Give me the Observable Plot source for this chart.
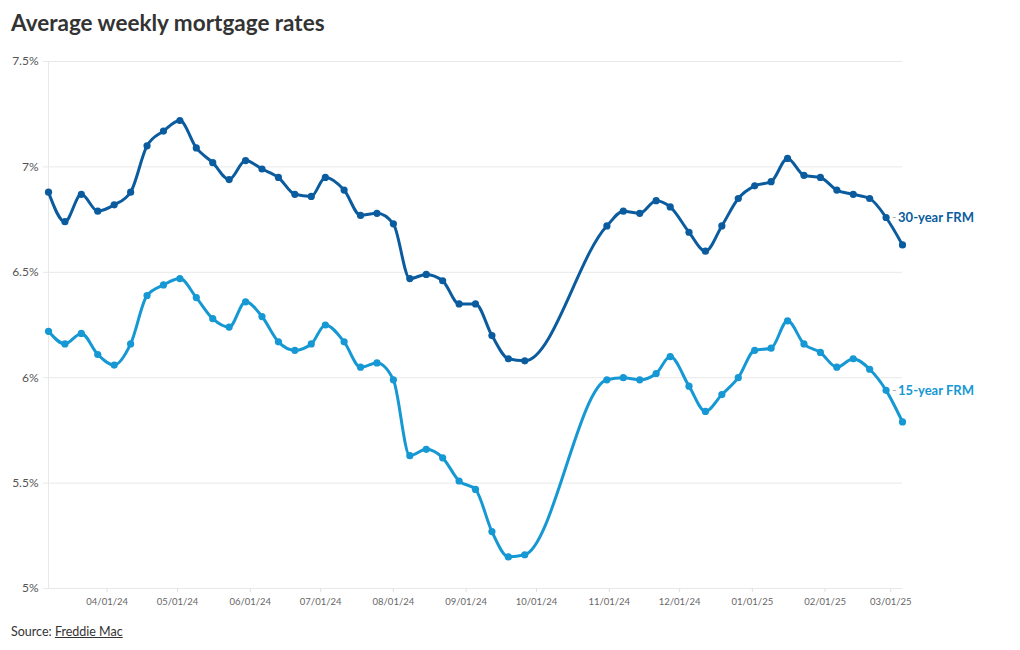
<!DOCTYPE html>
<html>
<head>
<meta charset="utf-8">
<script src="https://cdn.jsdelivr.net/npm/d3@7"></script>
<script src="https://cdn.jsdelivr.net/npm/@observablehq/plot@0.6"></script>
<style>
  html, body { margin: 0; padding: 0; background: #fff; }
  body { width: 1020px; height: 650px; position: relative; font-family: Lato, "Noto Sans", sans-serif; color: #333; }
  #title { position: absolute; left: 11px; top: 12px; font-size: 22.5px; line-height: 22px; font-weight: 700; color: #333; margin: 0; }
  #chart { position: absolute; left: 0; top: 45px; }
  #source { position: absolute; left: 11px; top: 624px; font-size: 12.5px; line-height: 16px; color: #333; }
  #source a { color: #333; text-decoration: underline; }
</style>
</head>
<body>
<div id="title">Average weekly mortgage rates</div>
<div id="chart"></div>
<div id="source">Source: <a>Freddie Mac</a></div>
<script>
const dates = ["2024-03-07","2024-03-14","2024-03-21","2024-03-28","2024-04-04","2024-04-11","2024-04-18","2024-04-25","2024-05-02","2024-05-09","2024-05-16","2024-05-23","2024-05-30","2024-06-06","2024-06-13","2024-06-20","2024-06-27","2024-07-03","2024-07-11","2024-07-18","2024-07-25","2024-08-01","2024-08-08","2024-08-15","2024-08-22","2024-08-29","2024-09-05","2024-09-12","2024-09-19","2024-09-26","2024-10-31","2024-11-07","2024-11-14","2024-11-21","2024-11-27","2024-12-05","2024-12-12","2024-12-19","2024-12-26","2025-01-02","2025-01-09","2025-01-16","2025-01-23","2025-01-30","2025-02-06","2025-02-13","2025-02-20","2025-02-27","2025-03-06"];
const rate30 = [6.88,6.74,6.87,6.79,6.82,6.88,7.10,7.17,7.22,7.09,7.02,6.94,7.03,6.99,6.95,6.87,6.86,6.95,6.89,6.77,6.78,6.73,6.47,6.49,6.46,6.35,6.35,6.20,6.09,6.08,6.72,6.79,6.78,6.84,6.81,6.69,6.60,6.72,6.85,6.91,6.93,7.04,6.96,6.95,6.89,6.87,6.85,6.76,6.63];
const rate15 = [6.22,6.16,6.21,6.11,6.06,6.16,6.39,6.44,6.47,6.38,6.28,6.24,6.36,6.29,6.17,6.13,6.16,6.25,6.17,6.05,6.07,5.99,5.63,5.66,5.62,5.51,5.47,5.27,5.15,5.16,5.99,6.00,5.99,6.02,6.10,5.96,5.84,5.92,6.00,6.13,6.14,6.27,6.16,6.12,6.05,6.09,6.04,5.94,5.79];
const seriesNames = ["30-year FRM", "15-year FRM"];
const seriesColors = ["#0b5c9e", "#1598d3"];
const yTicks = [5, 5.5, 6, 6.5, 7, 7.5];
const xTicks = ["2024-04-01","2024-05-01","2024-06-01","2024-07-01","2024-08-01","2024-09-01","2024-10-01","2024-11-01","2024-12-01","2025-01-01","2025-02-01","2025-03-01"];

const parse = d3.utcParse("%Y-%m-%d");
const data = [];
dates.forEach((d, i) => {
  data.push({date: parse(d), rate: rate30[i], series: seriesNames[0]});
  data.push({date: parse(d), rate: rate15[i], series: seriesNames[1]});
});
const labelData = [
  {date: parse(dates[dates.length - 2]), rate: rate30[rate30.length - 2], series: seriesNames[0]},
  {date: parse(dates[dates.length - 2]), rate: rate15[rate15.length - 2], series: seriesNames[1]}
];
const xDomain = [parse(dates[0]), parse(dates[dates.length - 1])];

const chart = Plot.plot({
  width: 1020,
  height: 575,
  marginTop: 16,
  marginBottom: 32,
  marginLeft: 48,
  marginRight: 118,
  style: {fontFamily: "Lato, 'Noto Sans', sans-serif", background: "transparent", overflow: "visible"},
  x: {type: "utc", domain: xDomain},
  y: {domain: [5, 7.5]},
  color: {domain: seriesNames, range: seriesColors},
  marks: [
    Plot.gridY(yTicks, {stroke: "#e8e8e8", strokeOpacity: 1}),
    Plot.ruleX([xDomain[0]], {stroke: "#e8e8e8"}),
    Plot.axisY(yTicks, {tickFormat: d => `${d}%`, tickSize: 5, tickPadding: 5, stroke: "#e8e8e8", fill: "#555", fontSize: 12, label: null}),
    Plot.axisX(xTicks.map(parse), {tickFormat: d3.utcFormat("%m/%d/%y"), tickSize: 4, tickPadding: 6, stroke: "#e0e0e0", fill: "#666", fontSize: 9.5, label: null}),
    Plot.line(data, {x: "date", y: "rate", z: "series", stroke: "series", strokeWidth: 3, curve: "monotone-x"}),
    Plot.dot(data, {x: "date", y: "rate", fill: "series", r: 3.6}),
    Plot.text(labelData, {x: "date", y: "rate", text: () => "-", dx: 6, textAnchor: "start", fill: "#aaa", fontSize: 12}),
    Plot.text(labelData, {x: "date", y: "rate", text: "series", dx: 12, textAnchor: "start", fill: "series", fontSize: 13, fontWeight: 700})
  ]
});
document.getElementById("chart").appendChild(chart);
</script>
</body>
</html>
